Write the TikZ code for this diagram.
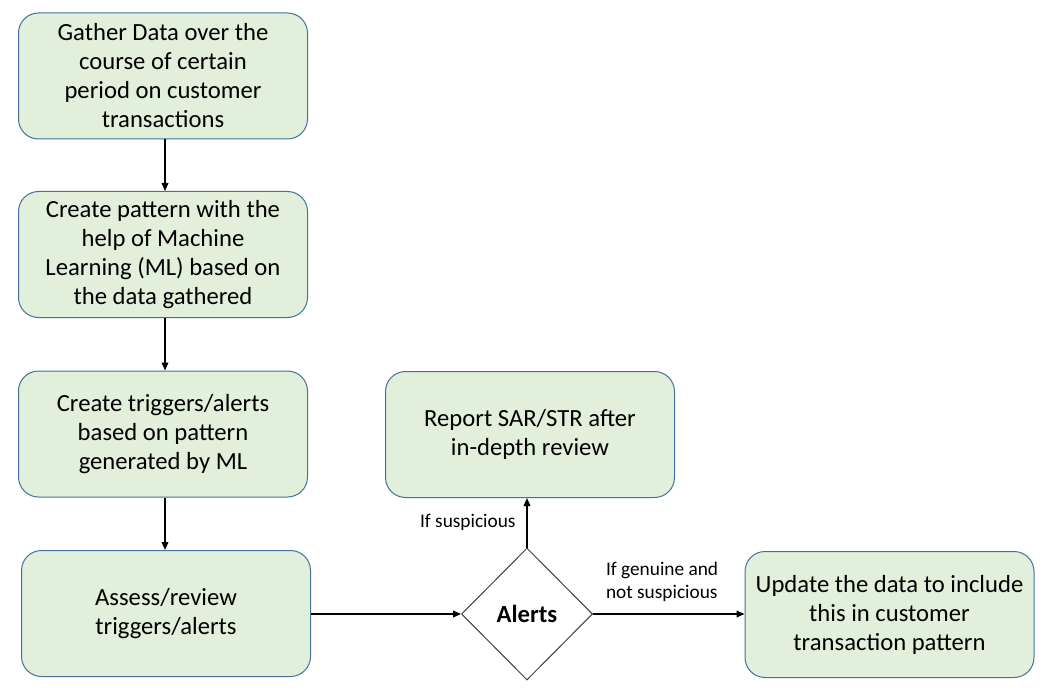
\documentclass[tikz,border=0pt]{standalone}
\usepackage{fontspec}
\setmainfont{Carlito}
\usetikzlibrary{shapes.geometric}
\usetikzlibrary{arrows.meta}

\definecolor{boxgreen}{RGB}{226,239,218}
\definecolor{boxblue}{RGB}{65,113,156}

\tikzset{
  stepbox/.style={draw=boxblue, fill=boxgreen, line width=0.75pt, rounded corners=15pt,
    minimum width=216.75pt, minimum height=94.5pt, align=center, inner sep=2pt,
    font=\fontsize{18.5}{21.75}\selectfont},
  decision/.style={diamond, draw=black!75, line width=0.75pt, fill=white,
    minimum width=98.25pt, minimum height=99pt, inner sep=0pt,
    font=\fontsize{18.5}{21.75}\selectfont\bfseries},
  flow/.style={line width=1.1pt, -{Triangle[length=6pt,width=5pt]}},
  flowlabel/.style={font=\fontsize{14.5}{17.25}\selectfont, align=left}
}

\begin{document}
\begin{tikzpicture}[x=0.75pt,y=0.75pt,yscale=-1,xscale=1]
\useasboundingbox (0,0) rectangle (1052,695);

% Steps
\node[stepbox] (gather) at (163,76) {Gather Data over the\\course of certain\\period on customer\\transactions};
\node[stepbox] (pattern) at (163,254.5) {Create pattern with the\\help of Machine\\Learning (ML) based on\\the data gathered};
\node[stepbox] (triggers) at (163,434) {Create triggers/alerts\\based on pattern\\generated by ML};
\node[stepbox] (assess) at (166,613.5) {Assess/review\\triggers/alerts};
\node[stepbox] (report) at (530,434.5) {Report SAR/STR after\\in-depth review};
\node[stepbox] (update) at (889.5,614.5) {Update the data to include\\this in customer\\transaction pattern};

% Decision
\node[decision] (alerts) at (527,614) {Alerts};

% Connectors
\draw[flow] (gather.south -| 165,0) -- (pattern.north -| 165,0);
\draw[flow] (pattern.south -| 165,0) -- (triggers.north -| 165,0);
\draw[flow] (triggers.south -| 165,0) -- (assess.north -| 165,0);
\draw[flow] (assess.east |- alerts.west) -- (alerts.west);
\draw[flow] (alerts.north) -- (alerts.north |- report.south)
  node[flowlabel, midway, left, inner sep=8pt] {If suspicious};
\draw[flow] (alerts.east) -- (update.west |- alerts.east)
  node[flowlabel, midway, above, xshift=-5pt, inner sep=9pt] {If genuine and\\not suspicious};

\end{tikzpicture}
\end{document}
